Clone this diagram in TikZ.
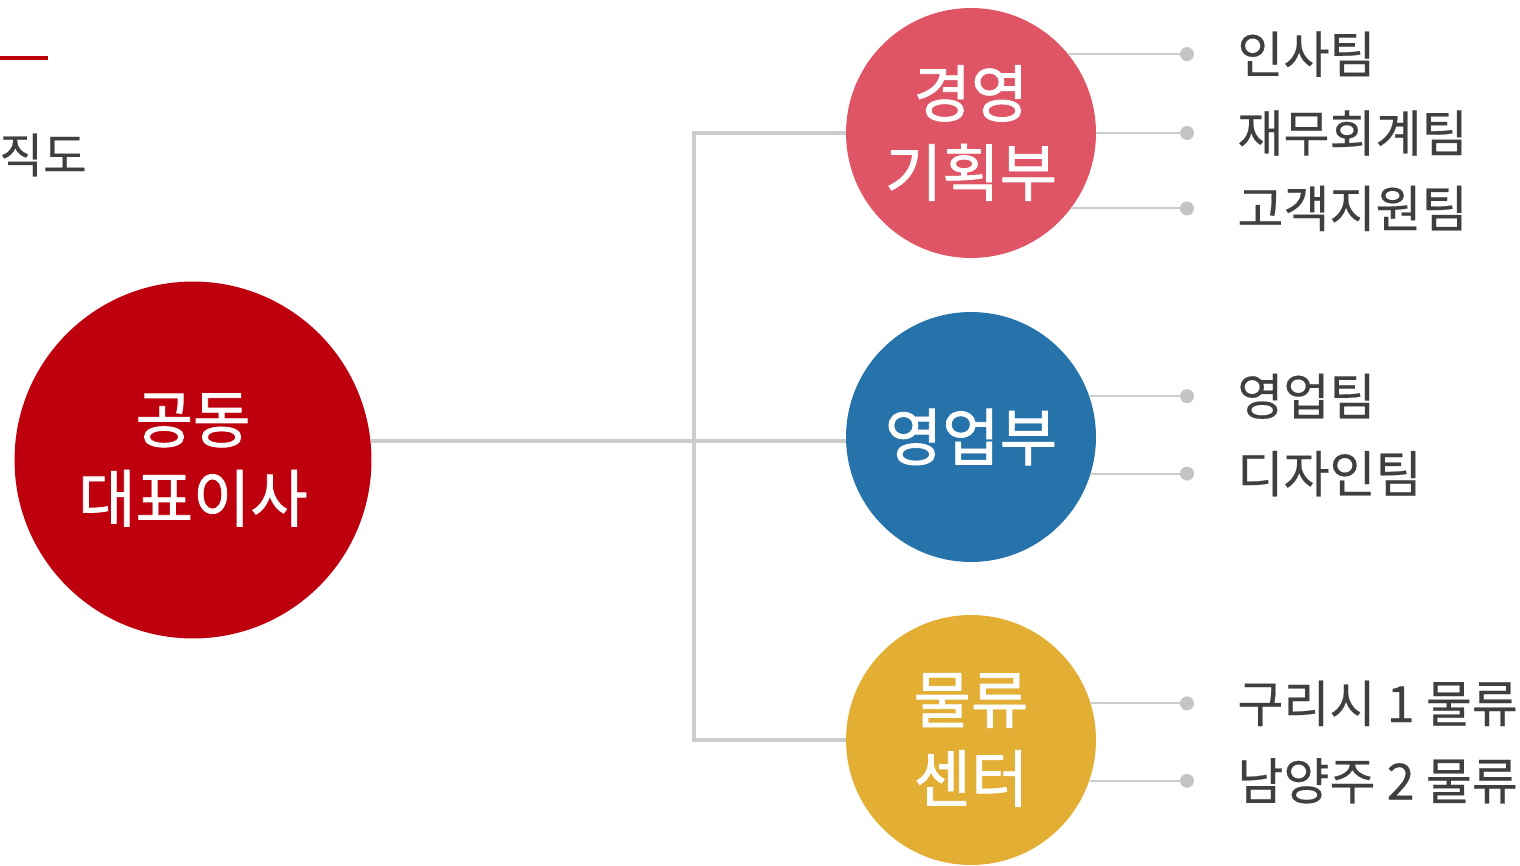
\documentclass[tikz,border=0pt]{standalone}
\usepackage{fontspec}
\setmainfont{Noto Sans CJK KR}
\newfontfamily\deptfont[FakeBold=1.2]{Noto Sans CJK KR}
\newfontfamily\teamfont[FakeBold=0.4]{Noto Sans CJK KR}
\usepackage{xcolor}
\definecolor{ceoColor}{HTML}{BE000E}
\definecolor{mgmtColor}{HTML}{E05566}
\definecolor{salesColor}{HTML}{2673AB}
\definecolor{logiColor}{HTML}{E2AE34}
\definecolor{lineColor}{HTML}{CCCCCC}
\definecolor{dotColor}{HTML}{C4C4C4}
\definecolor{textColor}{HTML}{3F3F3F}
\usetikzlibrary{positioning}

\begin{document}
\begin{tikzpicture}[x=0.02cm, y=-0.02cm,
  dept/.style={circle, minimum size=5cm, inner sep=0pt, text=white,
    align=center, font=\deptfont\fontsize{35.5}{45}\selectfont},
  trunk/.style={lineColor, line width=2.3pt},
  branch/.style={lineColor, line width=1.1pt},
  team/.style={textColor, inner sep=0pt, font=\teamfont\fontsize{28.5}{32}\selectfont}]
  \useasboundingbox (0,0) rectangle (1520,865);

  \draw[ceoColor, line width=2.8pt] (0,58) -- (48,58);
  \node[textColor, anchor=east, inner sep=0pt, font=\teamfont\fontsize{27}{30}\selectfont]
    (title) at (87,155) {직도};

  \node[dept, fill=ceoColor, minimum size=7.14cm] (ceo) at (193,460) {공동\\대표이사};
  \node[dept, fill=mgmtColor] (mgmt) at (971,133) {경영\\기획부};
  \node[dept, fill=salesColor] (sales) at (971,437) {영업부};
  \node[dept, fill=logiColor] (logi) at (971,740) {물류\\센터};

  \coordinate (fork) at (694,440);
  \coordinate (dotx) at (1187,0);
  \draw[trunk] (ceo.6) -- (ceo.6 -| sales.west);
  \draw[trunk] (mgmt.west) -- (mgmt.west -| fork) -- (logi.west -| fork) -- (logi.west);

  \foreach \dep/\ang/\team [count=\i] in {mgmt/39/인사팀, mgmt/0/재무회계팀,
    mgmt/-37/고객지원팀, sales/19/영업팀, sales/-17/디자인팀,
    logi/17/구리시 1 물류, logi/-19/남양주 2 물류}
  {
    \coordinate (dot\i) at (\dep.\ang -| dotx);
    \draw[branch] (\dep.\ang) -- (dot\i);
    \fill[dotColor] (dot\i) circle (0.14cm);
    \node[team, right=1cm of dot\i] (team\i) {\team};
  }
\end{tikzpicture}
\end{document}
